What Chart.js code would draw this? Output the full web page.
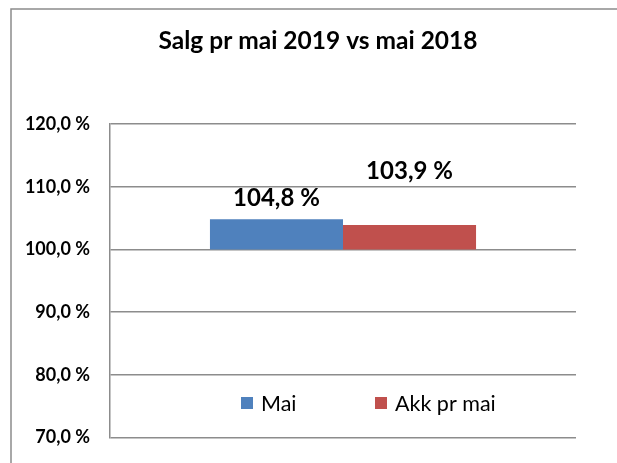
<!DOCTYPE html>
<html>
<head>
<meta charset="utf-8">
<script src="https://cdn.jsdelivr.net/npm/chart.js@4/dist/chart.umd.min.js"></script>
<style>
  html, body { margin: 0; padding: 0; background: #fff; }
  #wrap { width: 617px; height: 463px; position: relative; }
</style>
</head>
<body>
<div id="wrap"><canvas id="myChart"></canvas></div>
<script>
// data
var categories = ['Mai 2019'];
var seriesNames = ['Mai', 'Akk pr mai'];
var baseValue = 100;
var maiValues = [104.8];
var akkValues = [103.9];
var yTicks = [70, 80, 90, 100, 110, 120];
var titleText = 'Salg pr mai 2019 vs mai 2018';

var fontName = 'Lato';

function pct(v) {
    return v.toFixed(1).replace('.', ',') + ' %';
}

// tegner ramme, tittel, verdietiketter og legende
var extras = {
    id: 'extras',
    beforeDraw: function(chart) {
        var c = chart.ctx;
        c.save();
        c.fillStyle = '#fff';
        c.fillRect(0, 0, chart.width, chart.height);
        c.strokeStyle = '#8c8c8c';
        c.lineWidth = 1.5;
        c.beginPath();
        c.moveTo(11, chart.height);
        c.lineTo(11, 9);
        c.lineTo(chart.width, 9);
        c.stroke();
        // tittel
        c.fillStyle = '#000';
        c.font = 'bold 24.5px ' + fontName;
        c.textAlign = 'center';
        c.textBaseline = 'middle';
        c.fillText(titleText, 318, 41);
        c.restore();
    },
    afterDatasetsDraw: function(chart) {
        var c = chart.ctx;
        var lift = [21, 54];
        c.save();
        c.fillStyle = '#000';
        c.font = 'bold 24px ' + fontName;
        c.textAlign = 'center';
        c.textBaseline = 'middle';
        chart.data.datasets.forEach(function(ds, i) {
            var bar = chart.getDatasetMeta(i).data[0];
            var v = ds.data[0][1];
            c.fillText(pct(v), bar.x, bar.y - lift[i]);
        });

        // legende inne i plottet
        var xs = [241, 375];
        var y = 403;
        c.font = '21.5px ' + fontName;
        c.textAlign = 'left';
        chart.data.datasets.forEach(function(ds, i) {
            c.fillStyle = ds.backgroundColor;
            c.fillRect(xs[i], y - 6, 12, 12);
            c.fillStyle = '#000';
            c.fillText(ds.label, xs[i] + 20, y + 1);
        });
        c.restore();
    }
};

let myChart = document.getElementById('myChart').getContext('2d');

let barChart = new Chart(myChart, {
    type: 'bar',
    data: {
        labels: categories,
        datasets: [{
            label: seriesNames[0],
            data: maiValues.map(function(v) { return [baseValue, v]; }),
            backgroundColor: '#4F81BD'
        }, {
            label: seriesNames[1],
            data: akkValues.map(function(v) { return [baseValue, v]; }),
            backgroundColor: '#C0504D'
        }]
    },
    options: {
        responsive: true,
        maintainAspectRatio: false,
        animation: false,
        barPercentage: 1,
        categoryPercentage: 0.571,
        layout: {
            padding: { left: 0, right: 41, top: 124, bottom: 25.5 }
        },
        plugins: {
            legend: { display: false },
            tooltip: { enabled: false },
            title: { display: false }
        },
        scales: {
            x: {
                display: false
            },
            y: {
                min: 70,
                max: 120,
                afterFit: function(scale) {
                    scale.width = 110;
                    scale.paddingTop = 0;
                    scale.paddingBottom = 0;
                },
                afterBuildTicks: function(scale) {
                    scale.ticks = yTicks.map(function(v) { return { value: v }; });
                },
                grid: { color: '#8c8c8c', lineWidth: 1.5, drawTicks: false },
                border: { display: true, color: '#8c8c8c', width: 1.5 },
                ticks: {
                    padding: 20,
                    color: '#000',
                    font: { family: fontName, size: 18, weight: 'bold' },
                    callback: function(v) { return pct(v); }
                }
            }
        }
    },
    plugins: [extras]
});
</script>
</body>
</html>
